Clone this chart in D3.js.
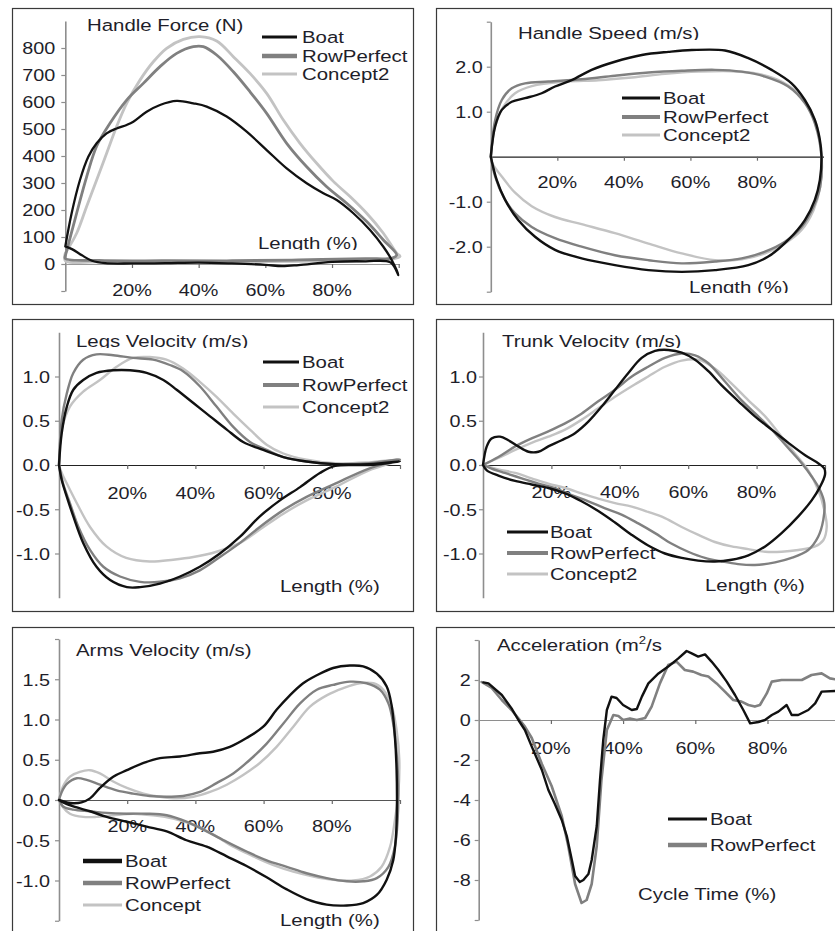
<!DOCTYPE html>
<html><head><meta charset="utf-8">
<script src="https://cdn.jsdelivr.net/npm/d3@7"></script>
<style>body{margin:0;background:#fff}svg{display:block}</style>
</head><body>
<script>
// ---------------- DATA ----------------
const seriesNames = ["Boat", "RowPerfect", "Concept2"];
const xTickValues = [20, 40, 60, 80];

// Handle Force (N) vs Length (%)  -- closed loops (drive then recovery)
const forceBoat = [[0,65],[1.9,188],[4.4,311],[6.9,397],[9.4,447],[12.4,484],[15.4,502],[18.4,515],[20.4,527],[24.4,564],[28.4,589],[33.4,604],[38.4,595],[42.4,583],[48.4,546],[54.4,490],[60.4,422],[66.4,354],[72.4,299],[77.4,262],[81.4,237],[86.4,188],[91.4,126],[95.4,64],[97.9,15],[99.9,-41],[97.5,6],[90,10],[80,8],[70,-4],[65,-8],[60,-3],[50,2],[40,5],[30,3],[20,2],[12,3],[8,12],[5,32],[2,55],[0,65]];
const forceRowPerfect = [[0,30],[3.4,188],[6.4,323],[9.4,436],[13.4,521],[18.4,607],[23.4,669],[28.4,731],[33.4,780],[38.4,805],[41.4,805],[45.4,774],[50.4,712],[55.4,638],[60.4,558],[66.4,447],[72.4,360],[78.4,286],[84.4,225],[90.4,157],[95.4,89],[99.4,33],[98,22],[90,20],[70,15],[50,12],[30,12],[10,13],[0,20],[0,30]];
const forceConcept2 = [[0,40],[3.4,114],[6.4,213],[9.4,311],[12.4,410],[15.4,509],[18.4,595],[22.4,681],[26.4,749],[30.4,799],[35.4,832],[40.4,842],[45.4,826],[50.4,768],[55.4,706],[60.4,632],[65.4,533],[70.4,447],[75.4,373],[80.4,306],[85.4,250],[90.4,188],[95.4,114],[99.4,40],[100.4,28],[98,18],[90,12],[70,10],[50,8],[30,8],[10,8],[0,12],[0,40]];
const forceTicks = [-100,0,100,200,300,400,500,600,700,800];

// Handle Speed (m/s)
const speedBoat = [[0,0],[1.3,0.67],[3.3,1.04],[6.3,1.22],[10.3,1.3],[15.3,1.41],[19.3,1.56],[24.3,1.7],[30.3,1.93],[37.3,2.11],[45.4,2.26],[53.4,2.33],[60.4,2.37],[70.4,2.36],[77.4,2.19],[84.4,1.93],[90.4,1.63],[94.4,1.26],[97.4,0.82],[98.9,0.38],[99.4,0],[98.9,-0.52],[97.4,-0.96],[94.4,-1.41],[89.4,-1.85],[83.4,-2.22],[77.4,-2.41],[67.4,-2.52],[57.4,-2.56],[47.4,-2.52],[37.3,-2.41],[27.3,-2.26],[19.3,-2.07],[13.3,-1.78],[8.3,-1.41],[4.3,-0.96],[1.8,-0.52],[0,0]];
const speedRowPerfect = [[0,0],[1.3,0.81],[3.3,1.26],[6.3,1.52],[10.3,1.63],[17.3,1.67],[27.3,1.72],[37.3,1.8],[47.4,1.87],[57.4,1.91],[67.4,1.93],[75.4,1.89],[82.4,1.78],[89.4,1.56],[94.4,1.19],[97.4,0.74],[99.4,0],[99,-0.67],[97,-1.11],[93.4,-1.56],[88.4,-1.89],[82.4,-2.11],[75.4,-2.26],[67.4,-2.33],[57.4,-2.37],[47.4,-2.30],[37.3,-2.19],[27.3,-2.0],[19.3,-1.81],[12.3,-1.56],[7.3,-1.26],[3.8,-0.89],[1.3,-0.44],[0,0]];
const speedConcept2 = [[0,0],[1.3,0.67],[3.8,1.11],[7.3,1.41],[12.3,1.57],[22.3,1.67],[32.3,1.7],[42.4,1.76],[52.4,1.84],[62.4,1.89],[72.4,1.9],[80.4,1.84],[87.4,1.67],[93.4,1.33],[97.4,0.81],[99.4,0],[99,-0.67],[97,-1.19],[93.4,-1.63],[88.4,-1.93],[82.4,-2.15],[75.4,-2.28],[67.4,-2.30],[57.4,-2.15],[47.4,-1.93],[37.3,-1.70],[27.3,-1.50],[19.3,-1.34],[12.3,-1.10],[7.3,-0.80],[3.3,-0.44],[0.5,-0.15],[0,0]];
const speedTicks = [-3,-2,-1,1,2,3];

// Legs Velocity (m/s)
const legsBoat = [[0,0],[0.8,0.36],[2.3,0.66],[4.2,0.85],[7.1,0.96],[11,1.04],[15.9,1.07],[20.8,1.07],[25.7,1.04],[30.6,0.96],[34.5,0.85],[39.4,0.70],[44.3,0.55],[49.2,0.40],[54,0.26],[59.9,0.17],[65.8,0.09],[72.6,0.04],[81,0.01],[90.9,0.01],[100,0.04],[90.9,0],[81,-0.01],[76.5,-0.09],[70.7,-0.25],[64.8,-0.40],[58.9,-0.58],[53.1,-0.81],[47.2,-1.0],[41.3,-1.15],[35.5,-1.26],[29.6,-1.34],[23.8,-1.38],[19.9,-1.38],[15,-1.30],[11,-1.15],[7.1,-0.88],[4.2,-0.58],[2.3,-0.36],[0.8,-0.17],[0,0]];
const legsRowPerfect = [[0,0],[0.8,0.51],[2.3,0.81],[4.2,1.04],[7.1,1.19],[11,1.25],[15.9,1.24],[21.7,1.21],[27.6,1.19],[32.5,1.13],[36.4,1.06],[41.3,0.89],[46.2,0.66],[51.1,0.43],[56,0.26],[60.9,0.17],[65.8,0.09],[72.6,0.04],[81,0.01],[90.9,0.02],[100,0.06],[90.9,-0.04],[81,-0.21],[72.6,-0.36],[65.8,-0.51],[58.9,-0.70],[53.1,-0.88],[47.2,-1.04],[41.3,-1.19],[35.5,-1.28],[29.6,-1.32],[23.8,-1.32],[17.9,-1.26],[13,-1.15],[9.1,-0.96],[5.7,-0.70],[3.2,-0.43],[1.2,-0.21],[0,0]];
const legsConcept2 = [[0,0],[0.8,0.40],[3.2,0.66],[7.1,0.83],[12,0.96],[16.9,1.11],[21.7,1.21],[26.6,1.22],[31.5,1.19],[36.4,1.09],[41.3,0.94],[46.2,0.77],[51.1,0.58],[56,0.40],[60.9,0.23],[65.8,0.13],[72.6,0.06],[81,0.02],[90.9,0.03],[100,0.06],[90.9,-0.06],[81,-0.25],[72.6,-0.40],[65.8,-0.55],[58.9,-0.73],[53.1,-0.88],[46.2,-0.98],[39.4,-1.04],[33.5,-1.07],[26.6,-1.09],[19.7,-1.05],[13.9,-0.92],[9.1,-0.70],[5.2,-0.43],[2.3,-0.21],[0.8,-0.09],[0,0]];
const velTicks = [-1.0,-0.5,0.0,0.5,1.0];

// Trunk Velocity (m/s)
const trunkBoat = [[0,0],[1.1,0.21],[2.5,0.30],[5,0.32],[7.4,0.28],[10.3,0.21],[13.3,0.15],[16.2,0.15],[19.1,0.21],[23,0.28],[26.9,0.36],[30.8,0.49],[34.7,0.66],[38.6,0.85],[42.5,1.04],[46.4,1.21],[50.3,1.29],[54.2,1.30],[58.1,1.27],[62,1.19],[65.9,1.06],[69.8,0.90],[74.7,0.72],[79.5,0.55],[84.4,0.40],[89.3,0.25],[94.2,0.11],[98,0.02],[99.8,-0.04],[100,-0.11],[98.5,-0.25],[96.1,-0.40],[92.2,-0.58],[87.3,-0.77],[82.5,-0.92],[77.6,-1.02],[72.7,-1.07],[67.8,-1.09],[62.9,-1.08],[58.1,-1.05],[53.2,-1.0],[48.3,-0.91],[43.5,-0.79],[38.6,-0.65],[33.7,-0.52],[28.8,-0.41],[24,-0.32],[19.1,-0.26],[14.2,-0.22],[9.4,-0.18],[4.5,-0.12],[1.1,-0.06],[0,0]];
const trunkRowPerfect = [[0,0],[4.5,0.09],[9.4,0.21],[14.2,0.30],[19.1,0.38],[24,0.47],[28.8,0.58],[33.7,0.72],[38.6,0.85],[43.5,1.0],[48.3,1.11],[53.2,1.21],[58.1,1.26],[62,1.24],[65.9,1.15],[70.8,0.94],[75.6,0.73],[80.5,0.55],[85.4,0.36],[89.3,0.19],[93.2,0.02],[96.1,-0.13],[98.5,-0.28],[99.8,-0.43],[99.5,-0.62],[98,-0.81],[95.1,-0.96],[90.2,-1.05],[85.4,-1.10],[79.5,-1.13],[74.6,-1.12],[69.8,-1.09],[64.9,-1.05],[60,-0.98],[55.2,-0.89],[50.3,-0.77],[45.4,-0.66],[40.5,-0.56],[35.7,-0.49],[30.8,-0.41],[25.9,-0.34],[21,-0.26],[16.2,-0.21],[11.3,-0.15],[6.4,-0.09],[2.5,-0.04],[0,0]];
const trunkConcept2 = [[0,0],[4.5,0.08],[9.4,0.17],[14.2,0.25],[19.1,0.32],[24,0.40],[28.8,0.51],[33.7,0.64],[38.6,0.77],[43.5,0.89],[48.3,1.0],[53.2,1.11],[58.1,1.18],[63,1.19],[67.8,1.09],[72.7,0.92],[77.6,0.73],[82.5,0.55],[87.3,0.32],[91.2,0.13],[95.1,-0.06],[98,-0.28],[99.8,-0.51],[100.5,-0.70],[99.5,-0.85],[97.1,-0.92],[92.2,-0.96],[87.3,-0.98],[82.5,-0.98],[77.6,-0.95],[72.7,-0.92],[67.8,-0.87],[63,-0.79],[58.1,-0.70],[53.2,-0.60],[48.3,-0.53],[43.5,-0.47],[38.6,-0.43],[33.7,-0.38],[28.8,-0.32],[24,-0.26],[19.1,-0.21],[14.2,-0.15],[9.4,-0.09],[4.5,-0.05],[0,0]];

// Arms Velocity (m/s)
const armsBoat = [[0,0],[2.3,-0.03],[4.2,-0.04],[6.6,-0.03],[9.1,0.02],[12,0.15],[15.9,0.29],[19.9,0.37],[24.8,0.46],[29.6,0.52],[35.5,0.54],[41.3,0.58],[45.2,0.60],[50.1,0.66],[55,0.77],[59.9,0.91],[63.8,1.12],[67.7,1.30],[71.6,1.45],[75.6,1.55],[80.4,1.64],[85.3,1.67],[89.2,1.66],[93.2,1.57],[96.1,1.41],[97.6,1.16],[98.5,0.79],[99,0.37],[99.1,-0.08],[98.8,-0.46],[98,-0.75],[96.1,-0.99],[93.2,-1.18],[89.2,-1.28],[84.4,-1.31],[78.5,-1.30],[72.6,-1.23],[66.8,-1.11],[60.9,-0.96],[55,-0.82],[49.2,-0.70],[43.3,-0.58],[37.4,-0.50],[31.6,-0.39],[25.7,-0.33],[19.9,-0.27],[14,-0.21],[9.1,-0.14],[4.2,-0.08],[1.2,-0.03],[0,0]];
const armsRowPerfect = [[0,0],[0.8,0.1],[2.3,0.2],[5.2,0.27],[8.1,0.25],[12,0.19],[16.9,0.12],[21.7,0.08],[26.6,0.05],[31.5,0.04],[36.4,0.05],[41.3,0.10],[46.2,0.21],[51.1,0.33],[56,0.50],[60.9,0.70],[65.8,0.95],[70.7,1.20],[75.6,1.37],[80.4,1.43],[85.3,1.47],[90.2,1.45],[94.1,1.37],[96.6,1.20],[98,0.95],[99,0.58],[99.5,0.17],[99.3,-0.25],[98.5,-0.58],[96.6,-0.83],[93.2,-0.97],[89.2,-1.01],[84.4,-1.01],[78.5,-0.97],[72.6,-0.91],[66.8,-0.83],[60.9,-0.75],[55,-0.64],[49.2,-0.52],[43.3,-0.39],[37.4,-0.27],[31.6,-0.19],[25.7,-0.17],[19.9,-0.17],[14,-0.16],[9.1,-0.14],[4.2,-0.12],[1.2,-0.08],[0,0]];
const armsConcept2 = [[0,0],[1.2,0.17],[3.2,0.29],[6.1,0.35],[9.1,0.37],[12,0.33],[15.9,0.23],[19.9,0.15],[24.8,0.08],[29.6,0.04],[34.5,0.02],[39.4,0.04],[44.3,0.10],[49.2,0.19],[54,0.31],[58.9,0.46],[63.8,0.66],[68.7,0.91],[73.6,1.16],[78.5,1.30],[83.4,1.39],[88.2,1.45],[92.2,1.45],[95.1,1.37],[97.6,1.16],[99,0.87],[99.8,0.50],[99.5,0.08],[98.5,-0.25],[97.1,-0.58],[94.6,-0.83],[91.2,-0.95],[86.3,-1.0],[80.4,-0.99],[74.6,-0.95],[68.7,-0.89],[62.9,-0.81],[57,-0.70],[51.1,-0.58],[45.3,-0.43],[39.4,-0.31],[33.5,-0.23],[27.6,-0.19],[21.7,-0.17],[15.9,-0.19],[11,-0.21],[7.1,-0.21],[3.2,-0.17],[1,-0.08],[0,0]];
const armsTicks = [-1.5,-1.0,-0.5,0.0,0.5,1.0,1.5,2.0];

// Acceleration vs Cycle Time (%)
const accBoat = [[1.3,1.88],[2.7,1.83],[6.4,1.25],[9.1,0.58],[11,0],[12.8,-0.5],[14.7,-1.33],[17.5,-2.5],[19.3,-3.5],[21.1,-4.2],[23,-5.0],[24.4,-5.8],[25.8,-7.0],[26.7,-7.8],[28,-8.1],[29,-8.0],[30.4,-7.7],[31.3,-7.0],[32.7,-5.3],[33.6,-3.0],[34.5,-1.0],[35.5,0.5],[36.8,1.17],[38.2,1.1],[40,0.75],[42.4,0.5],[43.8,0.55],[45.2,1.17],[47,1.83],[49.8,2.33],[52.5,2.67],[55.3,3.08],[57.6,3.45],[59,3.33],[60.8,3.17],[62.7,3.28],[64.5,2.92],[66.4,2.5],[68.7,1.92],[71,1.25],[73.3,0.5],[75.2,-0.17],[77.5,-0.1],[79.3,0],[81.2,0.25],[83,0.42],[85.3,0.75],[86.7,0.25],[88.5,0.25],[91.3,0.5],[93.2,0.83],[95,1.42],[98.7,1.45],[100,1.45]];
const accRowPerfect = [[0.8,1.9],[3.6,1.6],[6.4,1.0],[9.1,0.5],[11,0.08],[12.8,-0.33],[14.7,-0.9],[17.5,-2.2],[20.2,-3.3],[23,-4.8],[24.8,-6.3],[26.7,-8.2],[28.5,-9.15],[29.9,-9.0],[31.3,-8.2],[32.7,-6.3],[34,-3.0],[35.5,-0.5],[37.3,0.25],[38.7,0.2],[40,0],[41.9,0.08],[43.8,0],[46.1,0.1],[47.9,0.67],[50.2,1.83],[52.5,2.75],[54.8,2.92],[57.1,2.5],[59.4,2.42],[61.7,2.25],[63.6,2.17],[65.9,1.83],[68.2,1.42],[70.5,1.0],[72.8,0.92],[74.7,0.75],[76.5,0.67],[77.9,0.75],[79.8,1.33],[81.2,1.92],[83.9,2.0],[86.7,2.0],[89.5,2.0],[92.2,2.25],[95,2.33],[97.3,2.08],[100,2.0]];
const accTicks = [-10,-8,-6,-4,-2,0,2,4];

// ---------------- STYLE ----------------
const FONT = "'Liberation Sans', Arial, Helvetica, sans-serif";
const TXT = "#1e1e2a";
const TSX = 1.2;            // horizontal stretch of the text in the original
const colors = {Boat:"#111111", RowPerfect:"#808080", Concept2:"#c3c3c3"};

const svg = d3.select("body").append("svg").attr("width", 835).attr("height", 931)
  .style("font-family", FONT);
const defs = svg.append("defs");
let clipId = 0;

function label(g, x, y, s, o = {}) {
  const size = o.size || 17, sx = o.sx || TSX, anchor = o.anchor || "start";
  let host = g;
  if (o.clipBelow != null) {
    const id = "clip" + (clipId++);
    defs.append("clipPath").attr("id", id).append("rect")
      .attr("x", x - 300).attr("y", y - 60).attr("width", 800).attr("height", 60 + o.clipBelow);
    host = g.append("g").attr("clip-path", `url(#${id})`);
  }
  const t = host.append("text")
    .attr("transform", `translate(${x},${y}) scale(${sx},1)`)
    .attr("text-anchor", anchor).attr("font-size", size).attr("fill", o.fill || TXT);
  if (o.html) o.html(t); else t.text(s);
  return t;
}

function panel(cfg) {
  const g = svg.append("g");
  const [bx0, by0, bx1, by1] = cfg.box;
  g.append("rect").attr("x", bx0 + 0.5).attr("y", by0 + 0.5)
    .attr("width", bx1 - bx0).attr("height", by1 - by0)
    .attr("fill", "#fff").attr("stroke", "#3a3a3a").attr("stroke-width", 1.2);

  const x = d3.scaleLinear().domain([0, 100]).range(cfg.xRange);
  const y = d3.scaleLinear().domain(cfg.yDomain).range(cfg.yRange);

  // y axis
  const ya = g.append("g").attr("transform", `translate(${x(0)},0)`)
    .call(d3.axisLeft(y).tickValues(cfg.yTicks).tickSize(4).tickSizeOuter(0)
      .tickFormat(cfg.yFmt));
  ya.select(".domain").attr("stroke", "#8e8e8e").attr("stroke-width", 1.6);
  ya.selectAll(".tick line").attr("stroke", "#8e8e8e").attr("stroke-width", 1.2);
  ya.selectAll(".tick text")
    .attr("font-family", FONT).attr("font-size", cfg.tickSize || 16.5).attr("fill", TXT)
    .attr("x", -cfg.yLabelGap / TSX).attr("dy", "0.36em")
    .attr("transform", `scale(${TSX},1)`);

  // x axis (at zero) with ticks
  const xa = g.append("g").attr("transform", `translate(0,${y(0)})`)
    .call(d3.axisBottom(x).tickValues(cfg.xTickMarks).tickSize(4).tickSizeOuter(0).tickFormat(""));
  xa.select(".domain").attr("stroke", cfg.zeroColor).attr("stroke-width", 1.2);
  xa.selectAll(".tick line").attr("stroke", "#6a6a6a").attr("stroke-width", 1.2);

  // x tick labels
  xTickValues.forEach(v => label(g, x(v), cfg.xLabelY, v + "%", {size: cfg.tickSize || 16.5, anchor: "middle"}));

  // series lines
  const line = d3.line().x(d => x(d[0])).y(d => y(d[1]))
    .curve(cfg.curve || d3.curveCatmullRom.alpha(0.5));
  const plot = g.append("g");
  cfg.series.slice().reverse().forEach(s => {
    plot.append("path").datum(s.data).attr("d", line).attr("fill", "none")
      .attr("stroke", colors[s.name]).attr("stroke-width", s.width || 2.4)
      .attr("stroke-linejoin", "round").attr("stroke-linecap", "round");
  });

  // title & x axis title
  label(g, cfg.title.x, cfg.title.y, cfg.title.text, {clipBelow: cfg.title.clip, html: cfg.title.html});
  label(g, cfg.xTitle.x, cfg.xTitle.y, cfg.xTitle.text, {clipBelow: cfg.xTitle.clip});

  // legend
  const L = cfg.legend;
  cfg.series.forEach((s, i) => {
    const ly = L.ys[i];
    g.append("line").attr("x1", L.x1).attr("x2", L.x2).attr("y1", ly).attr("y2", ly)
      .attr("stroke", colors[s.name]).attr("stroke-width", (L.widths || [3,4,3])[i]);
    label(g, L.tx, ly + 6, L.names ? L.names[i] : s.name);
  });
}

// ---------------- PANELS ----------------
panel({
  box: [12, 8, 413, 304], xRange: [65.3, 398.7], yDomain: [-100, 900], yRange: [291, 21],
  yTicks: forceTicks, yFmt: d => d < 0 ? "" : d, yLabelGap: 10,
  xTickMarks: [20,40,60,80,100], xLabelY: 296, zeroColor: "#9a9a9a",
  title: {text: "Handle Force (N)", x: 87, y: 31},
  xTitle: {text: "Length (%)", x: 258, y: 249, clip: 1},
  legend: {x1: 262, x2: 297, tx: 302, ys: [37, 56, 74], widths: [3, 4.5, 3]},
  series: [{name: "Boat", data: forceBoat, width: 2.3}, {name: "RowPerfect", data: forceRowPerfect, width: 2.8}, {name: "Concept2", data: forceConcept2, width: 2.8}]
});

panel({
  box: [436, 8, 831, 304], xRange: [490.8, 823.5], yDomain: [-3, 3], yRange: [291.7, 21.7],
  yTicks: speedTicks, yFmt: d => Math.abs(d) === 3 ? "" : d3.format(".1f")(d).replace("−", "-"), yLabelGap: 8,
  xTickMarks: [20,40,60,80], xLabelY: 188, zeroColor: "#222",
  title: {text: "Handle Speed (m/s)", x: 518, y: 39, clip: 1},
  xTitle: {text: "Length (%)", x: 689, y: 293, clip: 0},
  legend: {x1: 622, x2: 660, tx: 663, ys: [98, 117, 135]},
  series: [{name: "Boat", data: speedBoat}, {name: "RowPerfect", data: speedRowPerfect}, {name: "Concept2", data: speedConcept2}]
});

panel({
  box: [12, 319, 413, 611], xRange: [59, 400], yDomain: [-1.5, 1.5], yRange: [597.75, 332.25],
  yTicks: velTicks, yFmt: d => d3.format(".1f")(d).replace("−", "-"), yLabelGap: 9,
  xTickMarks: [20,40,60,80,100], xLabelY: 499, zeroColor: "#222",
  title: {text: "Legs Velocity (m/s)", x: 76, y: 347, clip: 1},
  xTitle: {text: "Length (%)", x: 280, y: 592},
  legend: {x1: 263, x2: 299, tx: 302, ys: [362, 385, 407]},
  series: [{name: "Boat", data: legsBoat}, {name: "RowPerfect", data: legsRowPerfect}, {name: "Concept2", data: legsConcept2}]
});

panel({
  box: [436, 319, 833, 611], xRange: [483, 825], yDomain: [-1.5, 1.5], yRange: [597.75, 332.25],
  yTicks: velTicks, yFmt: d => d3.format(".1f")(d).replace("−", "-"), yLabelGap: 6,
  xTickMarks: [20,40,60,80,100], xLabelY: 498, zeroColor: "#222",
  title: {text: "Trunk Velocity (m/s)", x: 502, y: 347, clip: 1},
  xTitle: {text: "Length (%)", x: 705, y: 591},
  legend: {x1: 507, x2: 548, tx: 550, ys: [532, 553, 574]},
  series: [{name: "Boat", data: trunkBoat}, {name: "RowPerfect", data: trunkRowPerfect}, {name: "Concept2", data: trunkConcept2}]
});

panel({
  box: [12, 627, 413, 960], xRange: [59, 400], yDomain: [-1.5, 2.0], yRange: [920.75, 639],
  yTicks: armsTicks, yFmt: d => (d === -1.5 || d === 2) ? "" : d3.format(".1f")(d).replace("−", "-"), yLabelGap: 9,
  xTickMarks: [20,40,60,80,100], xLabelY: 832, zeroColor: "#555",
  title: {text: "Arms Velocity (m/s)", x: 76, y: 656},
  xTitle: {text: "Length (%)", x: 280, y: 926},
  legend: {x1: 83, x2: 122, tx: 125, ys: [861, 883, 905], widths: [4.5, 4.5, 3], names: ["Boat", "RowPerfect", "Concept"]},
  series: [{name: "Boat", data: armsBoat}, {name: "RowPerfect", data: armsRowPerfect}, {name: "Concept2", data: armsConcept2}]
});

panel({
  box: [436, 627, 900, 960], xRange: [478.7, 839.7], yDomain: [-10, 4], yRange: [920, 640],
  yTicks: accTicks, yFmt: d => (d === -10 || d === 4) ? "" : String(d).replace("−", "-"), yLabelGap: 8,
  xTickMarks: [20,40,60,80], xLabelY: 754, zeroColor: "#8e8e8e",
  curve: d3.curveLinear,
  title: {text: "", x: 497, y: 651, html: t => {
    t.append("tspan").text("Acceleration (m");
    t.append("tspan").attr("font-size", 11).attr("dy", -7).text("2");
    t.append("tspan").attr("dy", 7).text("/s");
  }},
  xTitle: {text: "Cycle Time (%)", x: 638, y: 900},
  legend: {x1: 668, x2: 707, tx: 710, ys: [819, 845], widths: [3, 4.5]},
  series: [{name: "Boat", data: accBoat}, {name: "RowPerfect", data: accRowPerfect, width: 2.6}]
});
</script>
</body></html>
